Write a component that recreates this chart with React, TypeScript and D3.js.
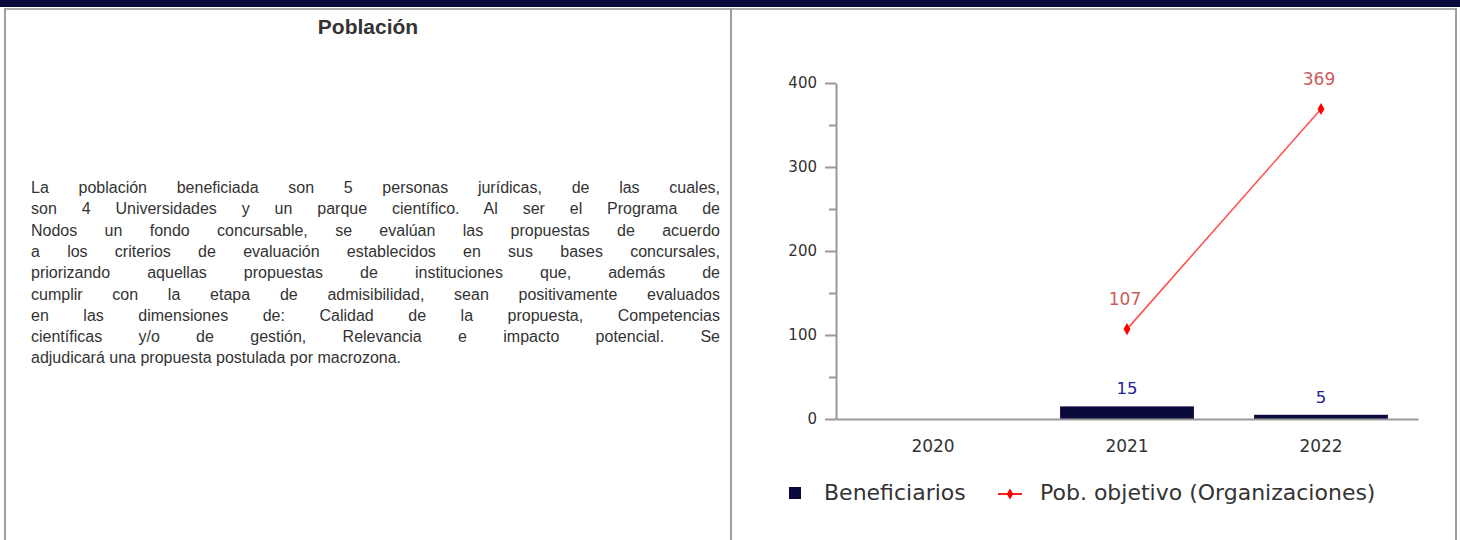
import { useRef, useEffect } from 'react';
import * as d3 from 'd3';

const years = ['2020', '2021', '2022'];
const beneficiarios: (number | null)[] = [null, 15, 5];
const poblacionObjetivo: (number | null)[] = [null, 107, 369];
const yTicks = [0, 100, 200, 300, 400];
const yMinorTicks = [50, 150, 250, 350];

const seriesNames = ['Beneficiarios', 'Pob. objetivo (Organizaciones)'];

const title = 'Población';
const paragraph = [
  'La población beneficiada son 5 personas jurídicas, de las cuales,',
  'son 4 Universidades y un parque científico. Al ser el Programa de',
  'Nodos un fondo concursable, se evalúan las propuestas de acuerdo',
  'a los criterios de evaluación establecidos en sus bases concursales,',
  'priorizando aquellas propuestas de instituciones que, además de',
  'cumplir con la etapa de admisibilidad, sean positivamente evaluados',
  'en las dimensiones de: Calidad de la propuesta, Competencias',
  'científicas y/o de gestión, Relevancia e impacto potencial. Se',
  'adjudicará una propuesta postulada por macrozona.',
];

const W = 1460;
const H = 540;
const navy = '#0a0b3c';
const chartFont = '"DejaVu Sans", sans-serif';
const textFont = '"Liberation Sans", Arial, sans-serif';

export default function App() {
  const ref = useRef<SVGSVGElement>(null);

  useEffect(() => {
    if (!ref.current) return;
    const svg = d3.select(ref.current);
    svg.selectAll('*').remove();

    // page frame
    svg.append('rect').attr('x', 0).attr('y', 0).attr('width', W).attr('height', 7).attr('fill', navy);
    const border = svg.append('g').attr('stroke', '#9e9e9e').attr('stroke-width', 2);
    border.append('line').attr('x1', 4).attr('x2', 1457).attr('y1', 9).attr('y2', 9).attr('stroke', '#b0b0b0');
    border.append('line').attr('x1', 5).attr('x2', 5).attr('y1', 8).attr('y2', H);
    border.append('line').attr('x1', 731).attr('x2', 731).attr('y1', 8).attr('y2', H);
    border.append('line').attr('x1', 1456).attr('x2', 1456).attr('y1', 8).attr('y2', H);

    // left cell: title + justified paragraph
    svg
      .append('text')
      .attr('x', 368)
      .attr('y', 34)
      .attr('text-anchor', 'middle')
      .attr('font-family', textFont)
      .attr('font-size', 21)
      .attr('font-weight', 'bold')
      .attr('fill', '#333')
      .text(title);

    const textLeft = 31;
    const textRight = 720;
    const lines = svg
      .append('g')
      .attr('font-family', textFont)
      .attr('font-size', 16)
      .attr('fill', '#333');
    paragraph.forEach((line, i) => {
      const t = lines
        .append('text')
        .attr('x', textLeft)
        .attr('y', 193 + i * 21.3)
        .text(line);
      if (i < paragraph.length - 1) {
        const natural = (t.node() as SVGTextElement).getComputedTextLength();
        const spaces = line.split(' ').length - 1;
        if (spaces > 0) t.attr('word-spacing', (textRight - textLeft - natural) / spaces);
      }
    });

    // chart
    const x = d3
      .scaleBand()
      .domain(years)
      .range([836, 1418])
      .paddingInner(0.31)
      .paddingOuter(0.155);
    const y = d3.scaleLinear().domain([0, 400]).range([419, 83]);
    const cx = (yr: string) => x(yr)! + x.bandwidth() / 2;

    // y axis
    const yAxis = svg
      .append('g')
      .attr('transform', 'translate(836,0)')
      .call(d3.axisLeft(y).tickValues(yTicks).tickSize(11).tickSizeOuter(0).tickPadding(8));
    yAxis.selectAll('line').attr('stroke', '#999').attr('stroke-width', 2);
    yAxis.select('.domain').attr('stroke', '#999').attr('stroke-width', 2);
    yAxis
      .selectAll('text')
      .attr('font-family', chartFont)
      .attr('font-size', 15)
      .attr('fill', '#333');
    const yMinor = svg
      .append('g')
      .attr('transform', 'translate(836,0)')
      .call(d3.axisLeft(y).tickValues(yMinorTicks).tickSize(7).tickSizeOuter(0).tickFormat(() => ''));
    yMinor.select('.domain').remove();
    yMinor.selectAll('line').attr('stroke', '#999').attr('stroke-width', 2);

    // bars
    const barData = years.map((yr, i) => ({ yr, v: beneficiarios[i] })).filter((d) => d.v != null);
    svg
      .append('g')
      .selectAll('rect')
      .data(barData)
      .enter()
      .append('rect')
      .attr('x', (d) => x(d.yr)!)
      .attr('y', (d) => y(d.v as number))
      .attr('width', x.bandwidth())
      .attr('height', (d) => y(0) - y(d.v as number))
      .attr('fill', navy);
    svg
      .append('g')
      .selectAll('text')
      .data(barData)
      .enter()
      .append('text')
      .attr('x', (d) => cx(d.yr))
      .attr('y', (d) => y(d.v as number) - 12)
      .attr('text-anchor', 'middle')
      .attr('font-family', chartFont)
      .attr('font-size', 16.5)
      .attr('fill', '#22229a')
      .text((d) => String(d.v));

    // x axis
    const xAxis = svg
      .append('g')
      .attr('transform', 'translate(0,419)')
      .call(d3.axisBottom(x).tickSize(0).tickSizeOuter(0).tickPadding(21));
    xAxis.select('.domain').attr('stroke', '#999').attr('stroke-width', 2);
    xAxis
      .selectAll('text')
      .attr('font-family', chartFont)
      .attr('font-size', 17)
      .attr('fill', '#333');

    // line series
    const lineData = years.map((yr, i) => ({ yr, v: poblacionObjetivo[i] })).filter((d) => d.v != null);
    const line = d3
      .line<{ yr: string; v: number | null }>()
      .x((d) => cx(d.yr))
      .y((d) => y(d.v as number));
    svg
      .append('path')
      .datum(lineData)
      .attr('fill', 'none')
      .attr('stroke', '#ff5050')
      .attr('stroke-width', 1.6)
      .attr('d', line);
    const diamond = d3.symbol(d3.symbolDiamond, 42);
    svg
      .append('g')
      .selectAll('path')
      .data(lineData)
      .enter()
      .append('path')
      .attr('transform', (d) => `translate(${cx(d.yr)},${y(d.v as number)})`)
      .attr('d', diamond)
      .attr('fill', '#ff0000');
    svg
      .append('g')
      .selectAll('text')
      .data(lineData)
      .enter()
      .append('text')
      .attr('x', (d) => cx(d.yr) - 2)
      .attr('y', (d) => y(d.v as number) - 24)
      .attr('text-anchor', 'middle')
      .attr('font-family', chartFont)
      .attr('font-size', 17)
      .attr('fill', '#cc5a5a')
      .text((d) => String(d.v));

    // legend
    const legend = svg
      .append('g')
      .attr('font-family', chartFont)
      .attr('font-size', 22)
      .attr('fill', '#333');
    legend.append('rect').attr('x', 789).attr('y', 487).attr('width', 12).attr('height', 12).attr('fill', navy);
    legend.append('text').attr('x', 824).attr('y', 500).text(seriesNames[0]);
    legend
      .append('line')
      .attr('x1', 998)
      .attr('x2', 1022)
      .attr('y1', 494)
      .attr('y2', 494)
      .attr('stroke', '#ff2020')
      .attr('stroke-width', 2);
    legend
      .append('path')
      .attr('transform', 'translate(1010,494)')
      .attr('d', d3.symbol(d3.symbolDiamond, 36))
      .attr('fill', '#ff0000');
    legend.append('text').attr('x', 1040).attr('y', 500).text(seriesNames[1]);
  }, []);

  return (
    <div style={{ position: 'absolute', left: 0, top: 0 }}>
      <svg ref={ref} width={W} height={H} style={{ display: 'block', background: '#fff' }} />
    </div>
  );
}
